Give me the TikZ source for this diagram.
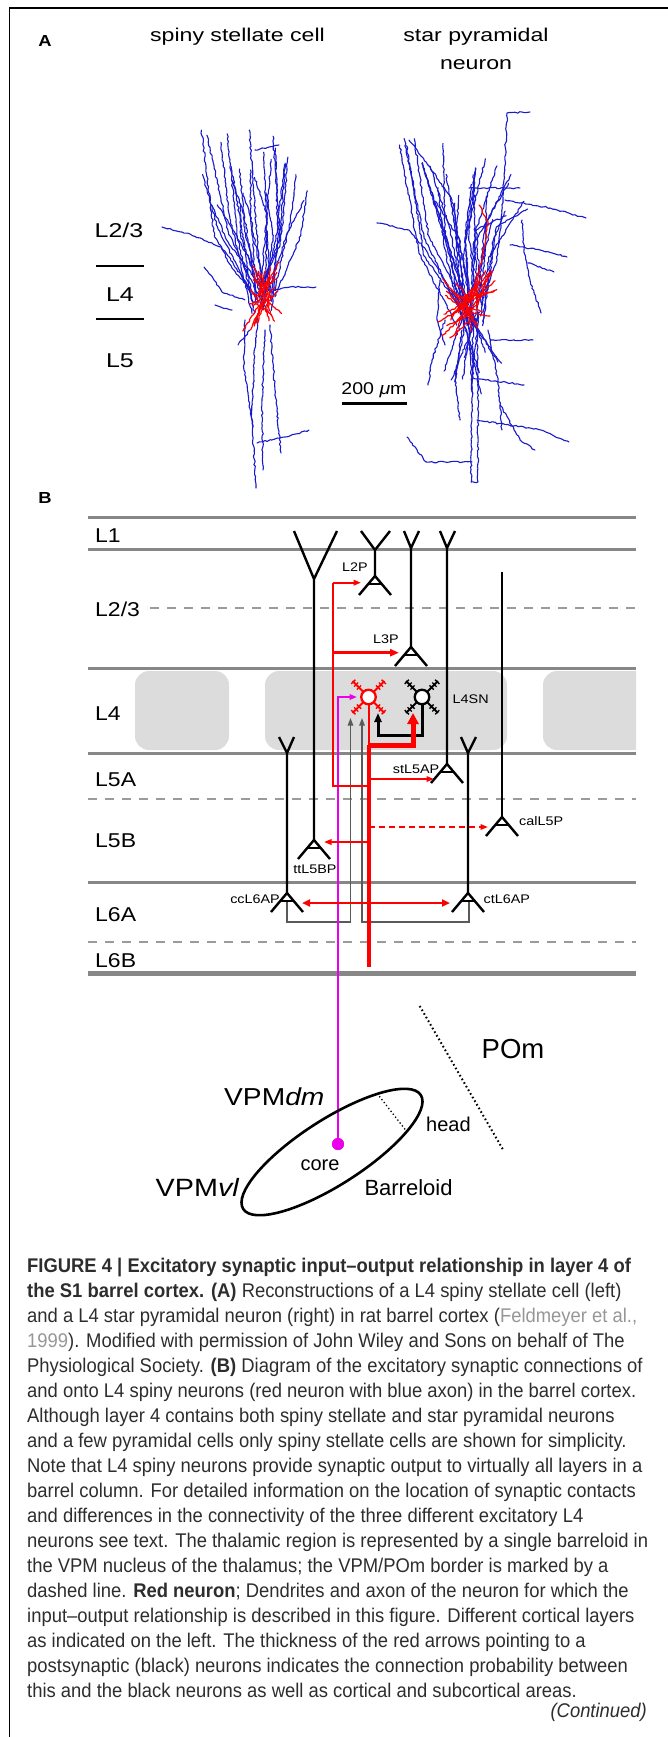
\documentclass[tikz,border=0pt]{standalone}
\usepackage{fontspec}
\setmainfont{Liberation Sans}
\newfontfamily\capf[FakeStretch=0.93]{Liberation Sans}
\newfontfamily\labf[FakeStretch=1.15]{Liberation Sans}
\newfontfamily\labwf[FakeStretch=1.25]{Liberation Sans}
\usetikzlibrary{arrows.meta,decorations.pathmorphing,shapes.geometric}
\definecolor{axblue}{RGB}{25,25,205}
\definecolor{nred}{RGB}{255,0,0}
\definecolor{layergray}{RGB}{135,135,135}
\definecolor{dashgray}{RGB}{155,155,155}
\definecolor{barrelgray}{RGB}{220,220,220}
\definecolor{mag}{RGB}{235,0,235}
\definecolor{captxt}{RGB}{45,45,45}
\definecolor{linkgray}{RGB}{150,150,150}
\definecolor{loopgray}{RGB}{90,90,90}
\tikzset{
  fibre/.style={decorate, decoration={random steps, segment length=2.6pt, amplitude=0.8pt}, line width=1.1pt, line join=round, line cap=round},
  bluefib/.style={fibre, draw=axblue},
  redfib/.style={fibre, draw=nred, line width=1.2pt},
  layerline/.style={draw=layergray, line width=3pt},
  layerdash/.style={draw=dashgray, line width=2pt, dash pattern=on 8.5pt off 8.5pt},
  barrel/.style={fill=barrelgray, rounded corners=14pt},
  cell/.style={draw=black, line width=2.4pt},
  soma/.style={circle, fill=white, line width=2.3pt, minimum size=14.5pt, inner sep=0pt},
  arrS/.style={-{Triangle[length=7.5pt, width=5.5pt]}},
  arrM/.style={-{Triangle[length=9pt, width=7pt]}},
  arrL/.style={-{Triangle[length=11pt, width=11pt]}},
  hdl/.style={font=\labwf\fontsize{18.5}{20}\selectfont, anchor=base, inner sep=0pt},
  alab/.style={font=\labwf\fontsize{20}{22}\selectfont, anchor=base, inner sep=0pt},
  panel/.style={font=\labf\fontsize{16}{18}\selectfont, anchor=base, inner sep=0pt},
  lyr/.style={font=\labf\fontsize{20}{22}\selectfont, anchor=base west, inner sep=0pt},
  smalllab/.style={font=\labf\fontsize{12.5}{14}\selectfont, inner sep=0pt},
  thal/.style={font=\labf\fontsize{24.5}{26}\selectfont, anchor=base west, inner sep=0pt},
  thalp/.style={font=\fontsize{20}{22}\selectfont, anchor=base west, inner sep=0pt},
  captline/.style={font=\capf\fontsize{19.8}{25}\selectfont, text=captxt, anchor=base west, inner sep=0pt},
  pyr/.pic={\draw[cell] (-16,19) -- (0,0) -- (16,19); \draw[cell] (-6.5,7.7) -- (6.5,7.7);},
  spiny/.pic={
    \foreach \a in {45,135,225,315}{
      \draw[line width=2pt] (\a:7) -- (\a:22.5);
      \foreach \r in {13.5,17.5,21.5}{
        \draw[line width=1.3pt] ([shift={(\a+90:3)}]\a:\r) -- ([shift={(\a-90:3)}]\a:\r);
      }
    }
  }
}
\begin{document}
\begin{tikzpicture}[x=1pt,y=-1pt]
\useasboundingbox (0,0) rectangle (668,1737);
\pgfmathsetseed{4242}
% frame
\draw[line width=1.3pt] (9.5,1737) -- (9.5,8) -- (668,8);

% ================= Panel A =================
\node[panel] (pA) at (45,47) {\textbf{A}};
\node[hdl] (hss) at (237.5,42) {spiny stellate cell};
\node[hdl] (hsp1) at (476,42) {star pyramidal};
\node[hdl] (hsp2) at (476,70) {neuron};
\node[alab] (aL23) at (119,237) {L2/3};
\node[alab] (aL4) at (120,301) {L4};
\node[alab] (aL5) at (120,367) {L5};
\draw[line width=1.8pt] (96,265.7) -- (144,265.7);
\draw[line width=1.8pt] (96,319.3) -- (144,319.3);
\node[font=\labf\fontsize{17}{19}\selectfont, anchor=base, inner sep=0pt] (scl) at (374,394) {200 \textit{μ}m};
\draw[line width=3pt] (342,403.3) -- (407,403.3);

% spiny stellate cell: blue axon
\foreach \i in {0,...,25}{
  \pgfmathsetmacro{\xt}{201+\i*4.1+rand*5}
  \pgfmathsetmacro{\yt}{130+rnd*80}
  \pgfmathsetmacro{\xm}{216+\i*3.2+rand*7}
  \pgfmathsetmacro{\ym}{228+rand*18}
  \pgfmathsetmacro{\xe}{256+\i*0.5+rand*8}
  \pgfmathsetmacro{\ye}{298+rand*16}
  \draw[bluefib] (\xt,\yt) -- (\xm,\ym) -- (\xe,\ye);
}
\draw[bluefib] (162,227) -- (190,234) -- (221,247) -- (232,268) -- (250,290);
\draw[bluefib] (204,267) -- (214,280) -- (222,292) -- (245,300);
\draw[bluefib] (262,292) -- (290,287) -- (316,287);
\draw[bluefib] (232,310) -- (215,305);
\draw[bluefib] (255,150) -- (279,145);
\draw[bluefib] (258,318) -- (254,360) -- (252,420) -- (256,488);
\draw[bluefib] (245,320) -- (244,370) -- (253,427);
\draw[bluefib] (270,325) -- (275,390) -- (281,453);
\draw[bluefib] (265,330) -- (262,400) -- (263,470);
\draw[bluefib] (257,443) -- (285,437) -- (309,430);
\draw[bluefib] (250,330) -- (238,345);
% spiny stellate: red dendrites
\foreach \i in {1,...,34}{
  \draw[redfib] (262+rand*5, 298+rand*12) -- ++(rand*18, rand*30);
}

% star pyramidal neuron: blue axon
\foreach \i in {0,...,27}{
  \pgfmathsetmacro{\xt}{398+\i*4.7+rand*8}
  \pgfmathsetmacro{\yt}{135+rnd*90}
  \pgfmathsetmacro{\xm}{428+\i*2.5+rand*10}
  \pgfmathsetmacro{\ym}{245+rand*20}
  \pgfmathsetmacro{\xe}{462+\i*0.6+rand*8}
  \pgfmathsetmacro{\ye}{312+rand*15}
  \draw[bluefib] (\xt,\yt) -- (\xm,\ym) -- (\xe,\ye);
}
\foreach \i in {0,...,11}{
  \draw[bluefib] (470+rand*10, 312) -- (445+\i*5+rand*5, 350+rnd*45);
}
\draw[bluefib] (530,112) -- (507,113) -- (503,200) -- (497,260) -- (482,300);
\draw[bluefib] (377,223) -- (409,230) -- (426,250) -- (450,290) -- (465,310);
\draw[bluefib] (409,140) -- (430,167) -- (452,200) -- (462,260);
\draw[bluefib] (469,188) -- (520,188);
\draw[bluefib] (505,200) -- (550,208) -- (586,218);
\draw[bluefib] (510,245) -- (540,250) -- (567,257);
\draw[bluefib] (528,263) -- (554,272);
\draw[bluefib] (541,313) -- (530,280) -- (524,250) -- (522,220);
\draw[bluefib] (490,340) -- (533,340);
\draw[bluefib] (473,320) -- (472,400) -- (471,482) -- (478,482) -- (478,400) -- (477,320);
\draw[bluefib] (407,437) -- (426,462) -- (472,462);
\draw[bluefib] (477,420) -- (541,430) -- (569,442);
\draw[bluefib] (500,405) -- (520,440) -- (535,450);
\draw[bluefib] (473,378) -- (524,385);
\draw[bluefib] (488,330) -- (498,380) -- (502,430);
\draw[bluefib] (462,330) -- (455,380) -- (460,420);
\draw[bluefib] (445,320) -- (432,360) -- (428,385);
\draw[bluefib] (440,280) -- (437,320) -- (445,345);
% star pyramidal: red dendrites
\draw[redfib] (479,205) -- (488,222) -- (482,260) -- (472,300);
\foreach \i in {1,...,40}{
  \draw[redfib] (470+rand*8, 305+rand*12) -- ++(rand*30, rand*32);
}

% ================= Panel B =================
\node[panel] (pB) at (45,503) {\textbf{B}};
\begin{scope}
  \clip (88,660) rectangle (636,760);
  \fill[barrel] (135,671) rectangle (229,750);
  \fill[barrel] (265,671) rectangle (507,750);
  \fill[barrel] (543,671) rectangle (690,750);
\end{scope}
\foreach \yy in {517,549,668,753,882} \draw[layerline] (88,\yy) -- (636,\yy);
\draw[layerdash] (150,608) -- (636,608);
\draw[layerdash] (88,799) -- (636,799);
\draw[layerdash] (88,942) -- (636,942);
\draw[layerline, line width=5pt] (88,973) -- (636,973);

\node[lyr] (lL1) at (95,542.7) {L1};
\node[lyr] (lL23) at (95,616.5) {L2/3};
\node[lyr] (lL4) at (95,720.7) {L4};
\node[lyr] (lL5A) at (95,786) {L5A};
\node[lyr] (lL5B) at (95,847.3) {L5B};
\node[lyr] (lL6A) at (95,921.7) {L6A};
\node[lyr] (lL6B) at (95,967.3) {L6B};

% black neurons
\coordinate (ttL5BP) at (314,840);
\coordinate (L2P) at (375,576);
\coordinate (L3P) at (411,647);
\coordinate (stL5AP) at (447,764);
\coordinate (calL5P) at (502,817);
\coordinate (ccL6AP) at (287,893);
\coordinate (ctL6AP) at (468,893);
\draw[cell] (294,531) -- (314,579) -- (337,531) (314,579) -- (ttL5BP);
\draw[cell] (361,531) -- (375,550) -- (390,531) (375,550) -- (L2P);
\draw[cell] (404,531) -- (411,548) -- (419,531) (411,548) -- (L3P);
\draw[cell] (440,531) -- (447,548) -- (455,531) (447,548) -- (stL5AP);
\draw[cell] (502,572) -- (calL5P);
\draw[cell] (279,737) -- (287,753) -- (294,737) (287,753) -- (ccL6AP);
\draw[cell] (461,737) -- (468,753) -- (476,737) (468,753) -- (ctL6AP);
\foreach \c in {ttL5BP,L2P,L3P,stL5AP,calL5P,ccL6AP,ctL6AP} \pic at (\c) {pyr};

\node[smalllab, anchor=base] (tL2P) at (355,571.7) {L2P};
\node[smalllab, anchor=base] (tL3P) at (386,643.3) {L3P};
\node[smalllab, anchor=base west] (tL4SN) at (452.5,703.3) {L4SN};
\node[smalllab, anchor=base west] (tstL5AP) at (392.7,773.3) {stL5AP};
\node[smalllab, anchor=base west] (tcalL5P) at (519,825.3) {calL5P};
\node[smalllab, anchor=base] (tttL5BP) at (315,873.3) {ttL5BP};
\node[smalllab, anchor=base east] (tccL6AP) at (280,903.3) {ccL6AP};
\node[smalllab, anchor=base west] (tctL6AP) at (483.5,903.3) {ctL6AP};

% L4 spiny neurons
\coordinate (redc) at (368.5,697);
\coordinate (blkc) at (422,697);

% feedback loops from L6A (thin grey)
\draw[loopgray, line width=1.2pt, arrS] (287,902) -- (287,922) -- (350.5,922) -- (350.5,718);
\draw[loopgray, line width=1.2pt, arrS] (469,902) -- (469,922) -- (362,922) -- (362,718);

% L4SN -> red neuron
\draw[black, line width=3pt, arrM] (422,705) -- (422,735) -- (378,735) -- (378,713);

% thalamic input (magenta)
\node[circle, fill=mag, minimum size=12pt, inner sep=0pt] (core) at (338,1144) {};
\coordinate (magtop) at (338,697);
\coordinate (magtip) at (357,697);
\draw[mag, line width=2pt, arrS] (core.center) -- (magtop) -- (magtip);

% red axon
\coordinate (rj1) at (369,745);
\coordinate (rjL) at (369,786);
\coordinate (axend) at (369,967);
\draw[nred, line width=2.4pt] (369,705) -- (rj1);
\draw[nred, line width=3.4pt] (rj1) -- (axend);
\draw[nred, line width=5pt, arrL] (rj1) -- (413,745) -- (413,713);
\draw[nred, line width=2pt] (rjL) -- (332.5,786) -- (332.5,582.7);
\draw[nred, line width=2pt, arrS] (332.5,582.7) -- (361,582.7);
\draw[nred, line width=3pt, arrM] (332.5,652.7) -- (399,652.7);
\draw[nred, line width=1.7pt, arrS] (369,779) -- (434,779);
\draw[nred, line width=1.8pt, dash pattern=on 6pt off 4pt, -{Triangle[length=7.5pt, width=5.5pt]}] (369,827) -- (488,827);
\draw[nred, line width=1.7pt, arrS] (369,842) -- (324,842);
\draw[nred, line width=2.6pt, {Triangle[length=8pt, width=7pt]}-{Triangle[length=8pt, width=7pt]}] (302,903) -- (450,903);

% spiny dendrites and somata
\pic[color=nred] at (redc) {spiny};
\pic[color=black] at (blkc) {spiny};
\node[soma, draw=nred] (redcell) at (redc) {};
\node[soma, draw=black] (L4SN) at (blkc) {};

% ================= Thalamus =================
\node[ellipse, draw, line width=2.6pt, minimum width=211pt, minimum height=65pt, inner sep=0pt, rotate=32.7] (barreloid) at (332,1152) {};
\draw[line width=1.3pt, dash pattern=on 1.3pt off 2.4pt] (377,1093.3) -- (406.9,1131.7);
\coordinate (pomA) at (419.7,1006);
\coordinate (pomB) at (502.8,1149.3);
\draw[line width=2pt, dash pattern=on 1.6pt off 2.6pt] (pomA) -- (pomB);
\node[circle, fill=mag, minimum size=12pt, inner sep=0pt] (coredot) at (338,1144) {};

\node[font=\fontsize{27.5}{30}\selectfont, anchor=base west, inner sep=0pt] (POm) at (481.5,1058) {POm};
\node[thal] (VPMdm) at (224,1105) {VPM\textit{dm}};
\node[font=\labf\fontsize{25}{27}\selectfont, anchor=base west, inner sep=0pt] (VPMvl) at (155.5,1196.7) {VPM\textit{vl}};
\node[thalp] (head) at (426,1131) {head};
\node[thalp] (coretxt) at (300.4,1170.7) {core};
\node[font=\fontsize{22}{24}\selectfont, anchor=base west, inner sep=0pt] (Barreloid) at (364.3,1195) {Barreloid};

% ================= Caption =================
\node[captline] (c1) at (27,1272) {\bfseries FIGURE 4 | Excitatory synaptic input–output relationship in layer 4 of};
\node[captline] (c2) at (27,1297) {\textbf{the S1 barrel cortex. (A)} Reconstructions of a L4 spiny stellate cell (left)};
\node[captline] (c3) at (27,1322) {and a L4 star pyramidal neuron (right) in rat barrel cortex ({\color{linkgray}Feldmeyer et al.,}};
\node[captline] (c4) at (27,1347) {{\color{linkgray}1999}). Modified with permission of John Wiley and Sons on behalf of The};
\node[captline] (c5) at (27,1372) {Physiological Society. \textbf{(B)} Diagram of the excitatory synaptic connections of};
\node[captline] (c6) at (27,1397) {and onto L4 spiny neurons (red neuron with blue axon) in the barrel cortex.};
\node[captline] (c7) at (27,1422) {Although layer 4 contains both spiny stellate and star pyramidal neurons};
\node[captline] (c8) at (27,1447) {and a few pyramidal cells only spiny stellate cells are shown for simplicity.};
\node[captline] (c9) at (27,1472) {Note that L4 spiny neurons provide synaptic output to virtually all layers in a};
\node[captline] (c10) at (27,1497) {barrel column. For detailed information on the location of synaptic contacts};
\node[captline] (c11) at (27,1522) {and differences in the connectivity of the three different excitatory L4};
\node[captline] (c12) at (27,1547) {neurons see text. The thalamic region is represented by a single barreloid in};
\node[captline] (c13) at (27,1572) {the VPM nucleus of the thalamus; the VPM/POm border is marked by a};
\node[captline] (c14) at (27,1597) {dashed line. \textbf{Red neuron}; Dendrites and axon of the neuron for which the};
\node[captline] (c15) at (27,1622) {input–output relationship is described in this figure. Different cortical layers};
\node[captline] (c16) at (27,1647) {as indicated on the left. The thickness of the red arrows pointing to a};
\node[captline] (c17) at (27,1672) {postsynaptic (black) neurons indicates the connection probability between};
\node[captline] (c18) at (27,1697) {this and the black neurons as well as cortical and subcortical areas.};
\node[captline, anchor=base east] (cont) at (647,1717) {\itshape (Continued)};
\end{tikzpicture}
\end{document}
